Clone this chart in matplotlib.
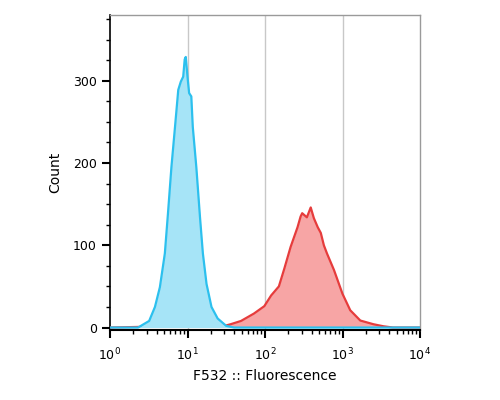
import numpy as np
import matplotlib.pyplot as plt
from matplotlib.ticker import LogLocator, MultipleLocator, NullFormatter

# Histograma de fluorescencia (control vs muestra)
blue_x = [1, 2.3, 3.2, 3.8, 4.4, 5.1, 5.6, 6.2, 6.9, 7.6, 8.2, 8.8, 9.2, 9.5,
          10.0, 10.5, 11.2, 11.7, 13.0, 14.5, 15.8, 17.6, 20.4, 24.5, 31.6, 40, 10000]
blue_y = [0, 0, 8, 25, 49, 90, 139, 195, 244, 289, 299, 305, 326, 329,
          305, 285, 281, 244, 195, 134, 90, 53, 25, 11, 2, 0, 0]

red_x = [1, 3.2, 10, 30, 36, 49, 72, 98, 120, 151, 178, 214, 263, 288, 302,
         347, 389, 427, 479, 525, 575, 631, 776, 1000, 1259, 1698, 2512, 3388, 4467, 10000]
red_y = [0, 1, 1.5, 2, 4, 8, 17, 26, 39, 50, 72, 98, 122, 135, 139,
         134, 146, 133, 122, 115, 100, 90, 70, 41, 21, 8.5, 4, 1.5, 0, 0]

y_ticks = [0, 100, 200, 300]
x_ticks = [1, 10, 100, 1000, 10000]
x_labels = [r'$10^{0}$', r'$10^{1}$', r'$10^{2}$', r'$10^{3}$', r'$10^{4}$']

fig = plt.figure(figsize=(5, 4), dpi=100)
ax = fig.add_axes([0.22, 0.175, 0.62, 0.7875])

ax.fill_between(red_x, red_y, color='#f7a5a5', lw=0, zorder=2)
ax.plot(red_x, red_y, color='#e63c3c', lw=1.6, zorder=3)
ax.fill_between(blue_x, blue_y, color='#a6e4f7', lw=0, zorder=4)
ax.plot(blue_x, blue_y, color='#2cc0ee', lw=1.6, zorder=5)

ax.set_xscale('log')
ax.set_xlim(1, 10000)
ax.set_ylim(-3, 380)

for v in [10, 100, 1000]:
    ax.axvline(v, color='#c8c8c8', lw=1, zorder=1)

ax.set_xticks(x_ticks)
ax.set_xticklabels(x_labels)
ax.xaxis.set_minor_locator(LogLocator(base=10, subs=np.arange(2, 10)))
ax.xaxis.set_minor_formatter(NullFormatter())
ax.set_yticks(y_ticks)
ax.yaxis.set_minor_locator(MultipleLocator(25))

ax.tick_params(axis='both', which='major', labelsize=9, colors='black', width=1.5, length=6)
ax.tick_params(axis='both', which='minor', width=1, length=3)
ax.tick_params(axis='x', pad=6)

for s in ['top', 'right']:
    ax.spines[s].set_color('#9a9a9a')
    ax.spines[s].set_linewidth(1)
ax.spines['left'].set_linewidth(1.2)
ax.spines['bottom'].set_linewidth(1.5)

ax.set_xlabel('F532 :: Fluorescence', fontsize=10, labelpad=4)
ax.set_ylabel('Count', fontsize=10, labelpad=8)

fig.savefig('out.png', dpi=100)
